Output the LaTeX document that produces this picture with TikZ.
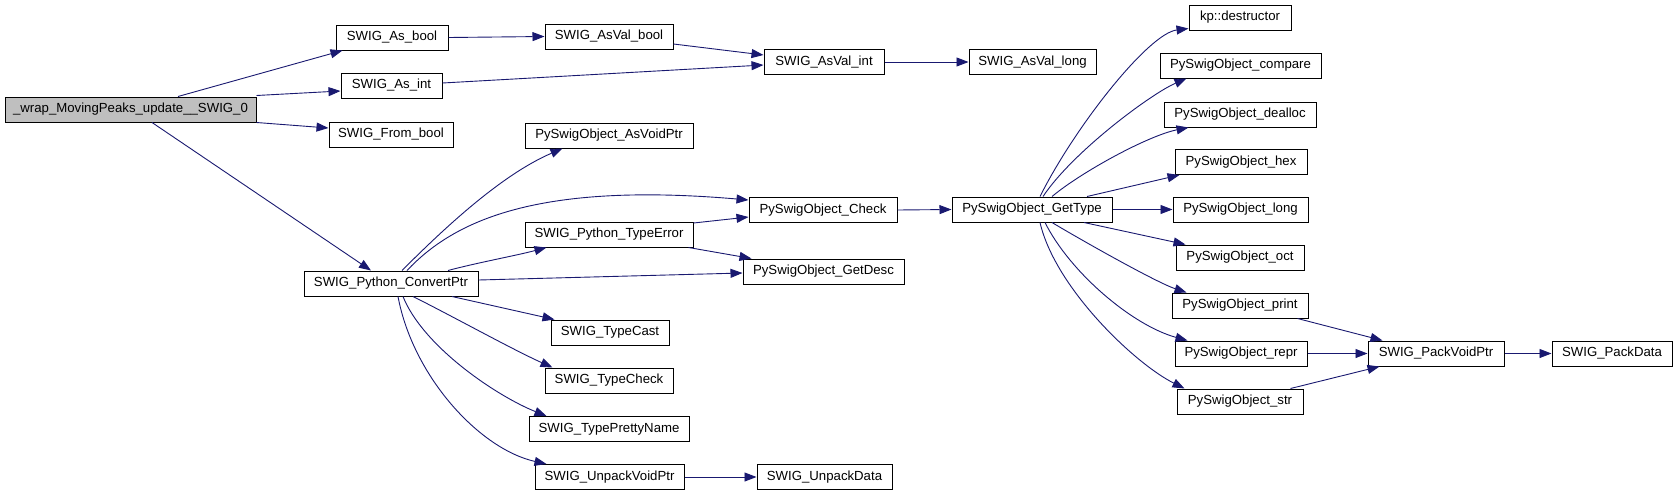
\documentclass[tikz,border=0pt]{standalone}
\usepackage{fontspec}
\setmainfont{Liberation Sans}
\usetikzlibrary{arrows.meta,calc}
\definecolor{edgeblue}{HTML}{191970}
\definecolor{mainfill}{HTML}{BFBFBF}
\begin{document}
\begin{tikzpicture}[x=1pt,y=-1pt,
  fn/.style={draw=black,line width=1pt,fill=white,rectangle,inner sep=0pt,minimum height=25pt,
     font=\fontsize{13.2}{15}\selectfont,text=black},
  rootfn/.style={fn,fill=mainfill},
  call/.style={draw=edgeblue,line width=0.9pt,-{Triangle[length=12pt,width=9pt]},
     color=edgeblue}]
\useasboundingbox (0,0) rectangle (1677,493);
% nodes
\node[rootfn,minimum width=251pt] (main) at (130.5,109.5) {\_wrap\_MovingPeaks\_update\_\_SWIG\_0};
\node[fn,minimum width=112pt] (asbool) at (392,37.5) {SWIG\_As\_bool};
\node[fn,minimum width=101pt] (asint) at (391.5,85.5) {SWIG\_As\_int};
\node[fn,minimum width=124pt] (frombool) at (391,134.5) {SWIG\_From\_bool};
\node[fn,minimum width=174pt] (cp) at (391,283.5) {SWIG\_Python\_ConvertPtr};
\node[fn,minimum width=128pt] (avbool) at (609,36.5) {SWIG\_AsVal\_bool};
\node[fn,minimum width=168pt] (asvoid) at (609,135.5) {PySwigObject\_AsVoidPtr};
\node[fn,minimum width=168pt] (terr) at (609,234.5) {SWIG\_Python\_TypeError};
\node[fn,minimum width=118pt] (tcast) at (610,332.5) {SWIG\_TypeCast};
\node[fn,minimum width=128pt] (tcheck) at (609,380.5) {SWIG\_TypeCheck};
\node[fn,minimum width=160pt] (tpretty) at (609,429) {SWIG\_TypePrettyName};
\node[fn,minimum width=149pt] (unpack) at (609.5,477) {SWIG\_UnpackVoidPtr};
\node[fn,minimum width=120pt] (avint) at (824,62) {SWIG\_AsVal\_int};
\node[fn,minimum width=148pt] (check) at (823,210) {PySwigObject\_Check};
\node[fn,minimum width=161pt] (getdesc) at (823.5,271.5) {PySwigObject\_GetDesc};
\node[fn,minimum width=135pt] (unpackdata) at (824.5,477) {SWIG\_UnpackData};
\node[fn,minimum width=127pt] (avlong) at (1032.5,62) {SWIG\_AsVal\_long};
\node[fn,minimum width=160pt] (gettype) at (1032,209.5) {PySwigObject\_GetType};
\node[fn,minimum width=102pt] (kp) at (1240,17.5) {kp::destructor};
\node[fn,minimum width=161pt] (compare) at (1240.5,65.5) {PySwigObject\_compare};
\node[fn,minimum width=152pt] (dealloc) at (1240,114.5) {PySwigObject\_dealloc};
\node[fn,minimum width=132pt] (hex) at (1241,162) {PySwigObject\_hex};
\node[fn,minimum width=135pt] (long) at (1240.5,209.5) {PySwigObject\_long};
\node[fn,minimum width=128pt] (oct) at (1240,257.5) {PySwigObject\_oct};
\node[fn,minimum width=136pt] (print) at (1240,305.5) {PySwigObject\_print};
\node[fn,minimum width=132pt] (repr) at (1241,353.5) {PySwigObject\_repr};
\node[fn,minimum width=126pt] (str) at (1240,401.5) {PySwigObject\_str};
\node[fn,minimum width=136pt] (pvp) at (1436,353.5) {SWIG\_PackVoidPtr};
\node[fn,minimum width=120pt] (pdata) at (1612,353.5) {SWIG\_PackData};
% edges
\draw[call] ($(main.north)+(47.5,0)$) -- ($(asbool.south west)+(7,0)$);
\draw[call] ($(main.north east)+(0,-1)$) -- ($(asint.west)+(0,5.5)$);
\draw[call] (main.south east) -- ($(frombool.west)+(0,-6.5)$);
\draw[call] ($(main.south)+(21.5,0)$) -- ($(cp.north)+(-20,0)$);
\draw[call] (asbool.east) -- (avbool.west);
\draw[call] ($(avbool.east)+(0,7.5)$) -- ($(avint.west)+(0,-7)$);
\draw[call] ($(asint.east)+(0,-2.5)$) -- ($(avint.west)+(0,3)$);
\draw[call] (avint.east) -- (avlong.west);
\draw[call] ($(cp.north)+(11,0)$) .. controls +(38,-38) and +(-63,27) .. ($(asvoid.south west)+(38,0)$);
\draw[call] ($(cp.north)+(16,0)$) .. controls +(48,-51) and +(-209,-18) .. ($(check.west)+(0,-10)$);
\draw[call] ($(cp.north)+(57,0)$) .. controls +(30,-8) and +(-30,8) .. ($(terr.south west)+(22,0)$);
\draw[call] ($(cp.east)+(0,-3.5)$) -- ($(getdesc.west)+(0,1.5)$);
\draw[call] ($(cp.south)+(61,0)$) -- ($(tcast.north west)+(4,0)$);
\draw[call] ($(cp.south)+(22,0)$) .. controls +(40,20) and +(-40,-18) .. ($(tcheck.north west)+(8,0)$);
\draw[call] ($(cp.south)+(12,0)$) .. controls +(20,50) and +(-50,-20) .. ($(tpretty.north west)+(18,0)$);
\draw[call] ($(cp.south)+(7,0)$) .. controls +(15,80) and +(-67,-15) .. ($(unpack.north west)+(12,0)$);
\draw[call] ($(terr.east)+(0,-11.5)$) -- ($(check.west)+(0,7)$);
\draw[call] ($(terr.south east)+(-5,0)$) -- ($(getdesc.north west)+(9,0)$);
\draw[call] (unpack.east) -- (unpackdata.west);
\draw[call] (check.east) -- (gettype.west);
\draw[call] ($(gettype.north)+(8,0)$) .. controls +(35,-70) and +(-40,5) .. ($(kp.south west)+(0,-2)$);
\draw[call] ($(gettype.north)+(11,0)$) .. controls +(30,-45) and +(-35,15) .. ($(compare.south west)+(27,0)$);
\draw[call] ($(gettype.north)+(20,0)$) .. controls +(30,-25) and +(-40,8) .. ($(dealloc.south west)+(25,0)$);
\draw[call] ($(gettype.north)+(55,0)$) -- ($(hex.south west)+(5,0)$);
\draw[call] (gettype.east) -- (long.west);
\draw[call] ($(gettype.south)+(52,0)$) -- ($(oct.north west)+(10,0)$);
\draw[call] ($(gettype.south)+(20,0)$) .. controls +(30,18) and +(-30,-10) .. ($(print.north west)+(15,0)$);
\draw[call] ($(gettype.south)+(13,0)$) .. controls +(25,50) and +(-55,-15) .. ($(repr.north west)+(13,0)$);
\draw[call] ($(gettype.south)+(8,0)$) .. controls +(15,65) and +(-50,-25) .. ($(str.north west)+(8,0)$);
\draw[call] ($(print.south east)+(-11,0)$) -- ($(pvp.north west)+(15,0)$);
\draw[call] (repr.east) -- (pvp.west);
\draw[call] ($(str.north east)+(-13,0)$) -- ($(pvp.south west)+(12,0)$);
\draw[call] (pvp.east) -- (pdata.west);
\end{tikzpicture}
\end{document}
